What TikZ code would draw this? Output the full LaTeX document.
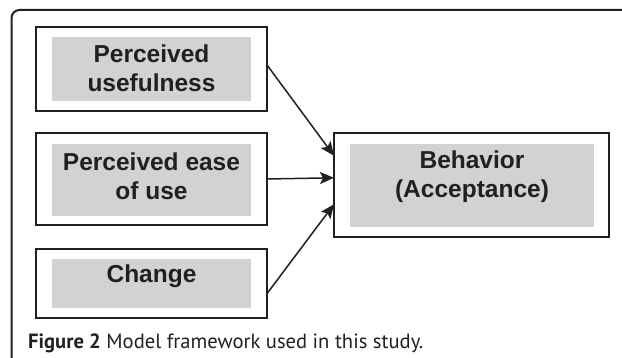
\documentclass[tikz,border=0pt]{standalone}
\usepackage{fontspec}
\usepackage{tikz}
\usetikzlibrary{arrows.meta,positioning}
\newfontfamily\arialfont{Liberation Sans}
\newfontfamily\capfont{PT Sans}
\definecolor{ink}{HTML}{231F20}
\definecolor{boxGray}{HTML}{D1D2D4}
\tikzstyle{edge}=[-{Stealth[length=14pt, width=12pt, inset=3pt]}, line width=1.5pt, draw=ink]
\tikzstyle{outerBox}=[rectangle, draw=ink, fill=white, line width=2pt, inner sep=0pt, outer sep=0pt]
\tikzstyle{grayBox}=[rectangle, fill=boxGray, inner sep=0pt, outer sep=0pt]
\tikzstyle{boxText}=[align=center, inner sep=0pt, text=ink, font=\arialfont\bfseries\fontsize{24.5}{29}\selectfont]
\begin{document}
\begin{tikzpicture}[x=1pt, y=-1pt]
      \useasboundingbox (0,0) rectangle (622,358);
      \draw[line width=2pt, draw=ink, rounded corners=8pt] (11.5,358) -- (11.5,10) -- (622,10);
      \node(pu) [outerBox, minimum width=231, minimum height=84] at (151.5, 69){};
      \node(pe) [outerBox, minimum width=231, minimum height=92] at (151.5, 179){};
      \node(ch) [outerBox, minimum width=231, minimum height=69] at (151.5, 283.5){};
      \node(be) [outerBox, minimum width=275, minimum height=104] at (471.5, 185){};
      \node(puG) [grayBox, minimum width=199, minimum height=64] at (151.5, 69){};
      \node(peG) [grayBox, minimum width=199, minimum height=72] at (151.5, 180){};
      \node(chG) [grayBox, minimum width=199, minimum height=49] at (151.5, 283.5){};
      \node(beG) [grayBox, minimum width=244, minimum height=83] at (472, 185.5){};
      \node(puT) [boxText, below=8pt of puG.north]{Perceived\\usefulness};
      \node(peT) [boxText, below=9pt of peG.north]{Perceived ease\\of use};
      \node(chT) [boxText, below=6pt of chG.north]{Change};
      \node(beT) [boxText, below=7pt of beG.north]{Behavior\\(Acceptance)};
      \draw[edge] (pu.2) to (be.168);
      \draw[edge] (pe.east) to (be.177.5);
      \draw[edge] (ch.355.3) to (be.188.3);
      \node(cap) [anchor=base west, inner sep=0pt, text=ink, font=\capfont\fontsize{20.6}{22}\selectfont] at (28, 349){\textbf{Figure 2} Model framework used in this study.};
    \end{tikzpicture}
\end{document}
